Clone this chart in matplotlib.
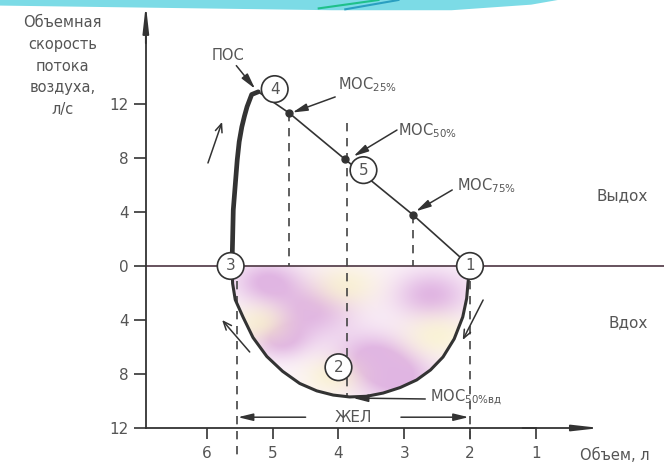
import numpy as np
import matplotlib.pyplot as plt
from matplotlib.patches import Polygon

plt.rcParams['font.family'] = ['DejaVu Sans']
TXT = '#555555'
INK = '#333333'

# expiratory limb: rise from point 3 to the peak (ПОС)
rise_v = [5.62, 5.61, 5.60, 5.57, 5.54, 5.51, 5.47, 5.43, 5.39, 5.32, 5.22]
rise_f = [0.0, 2.0, 4.15, 6.0, 7.85, 9.2, 10.3, 11.1, 11.8, 12.7, 12.9]

# expiratory limb: fall from the peak to point 1
fall_v = [5.22, 4.75, 3.90, 2.87, 2.0]
fall_f = [12.9, 11.33, 7.9, 3.8, 0.0]

# МОС25 / МОС50 / МОС75 points on the falling limb
mos_v = [4.75, 3.90, 2.87]
mos_f = [11.33, 7.9, 3.8]

# inspiratory limb, from point 3 round to point 1
insp_v = [5.62, 5.61, 5.57, 5.45, 5.30, 5.09, 4.85, 4.59, 4.33, 4.08, 3.83,
          3.57, 3.32, 3.06, 2.81, 2.60, 2.41, 2.24, 2.11, 2.05, 2.03, 2.0]
insp_f = [0.0, -1.3, -2.5, -3.8, -5.3, -6.7, -7.8, -8.7, -9.25, -9.56, -9.70,
          -9.65, -9.41, -9.0, -8.44, -7.7, -6.74, -5.4, -3.78, -2.4, -1.26, 0.0]

# vertical dashed guides: x, top, bottom
guide_v = [4.75, 3.87, 2.87, 5.55, 2.0]
guide_top = [11.33, 10.6, 3.8, 0.0, 0.0]
guide_bot = [0.0, -9.7, 0.0, -14.4, -13.2]

yticks = [12, 8, 4, 0, -4, -8, -12]
ytick_labels = ['12', '8', '4', '0', '4', '8', '12']
xticks = [6, 5, 4, 3, 2, 1]

circ_labels = ['1', '2', '3', '4', '5']
circ_v = [2.0, 4.0, 5.64, 4.97, 3.62]
circ_f = [0.0, -7.5, 0.0, 13.1, 7.1]

fig = plt.figure(figsize=(6.64, 4.65), dpi=100)
ax = fig.add_axes([0, 0, 1, 1])
ax.set_xlim(9.148, -0.951)
ax.set_ylim(-14.74, 19.70)

# decorative band along the top edge
band = Polygon([(0, 1), (0.84, 1), (0.80, 0.99), (0.68, 0.978), (0.50, 0.978),
                (0.0, 0.988)], closed=True, transform=fig.transFigure,
               facecolor='#7cdbe6', edgecolor='none', zorder=10)
fig.patches.append(band)
fig.add_artist(plt.Line2D([0.48, 0.57], [0.982, 1.0], color='#1fc08a', lw=1.5,
                          transform=fig.transFigure, zorder=11))
fig.add_artist(plt.Line2D([0.52, 0.60], [0.980, 1.0], color='#2a9fc0', lw=1.5,
                          transform=fig.transFigure, zorder=11))

# axes
for s in ['top', 'right']:
    ax.spines[s].set_visible(False)
ax.spines['left'].set_position(('data', 6.93))
ax.spines['left'].set_bounds(-12, 17.0)
ax.spines['bottom'].set_position(('data', -12))
ax.spines['bottom'].set_bounds(1.0, 6.93)
for s in ['left', 'bottom']:
    ax.spines[s].set_color(INK)
    ax.spines[s].set_linewidth(1.3)
ax.annotate('', xy=(6.93, 19.35), xytext=(6.93, 16.5),
            arrowprops=dict(arrowstyle='-|>,head_length=1.6,head_width=0.18',
                            color=INK, lw=1.3, shrinkA=0, shrinkB=0))
ax.annotate('', xy=(0.02, -12), xytext=(1.2, -12),
            arrowprops=dict(arrowstyle='-|>,head_length=1.6,head_width=0.18',
                            color=INK, lw=1.3, shrinkA=0, shrinkB=0))
ax.set_yticks(yticks)
ax.set_yticklabels(ytick_labels)
ax.set_xticks(xticks)
ax.tick_params(direction='out', length=9, width=1.2, color=INK,
               labelcolor=TXT, labelsize=11)
ax.tick_params(axis='x', length=8, pad=5)

ax.text(8.2, 14.8, 'Объемная\nскорость\nпотока\nвоздуха,\nл/с', ha='center',
        va='center', color=TXT, fontsize=10.5, linespacing=1.55)
ax.text(-0.2, -14.0, 'Объем, л', ha='center', va='center', color=TXT,
        fontsize=10.5)
ax.text(-0.31, 5.2, 'Выдох', ha='center', va='center', color=TXT, fontsize=11)
ax.text(-0.40, -4.2, 'Вдох', ha='center', va='center', color=TXT, fontsize=11)

# zero-flow line
ax.plot([6.93, -0.951], [0, 0], color='#5a4450', lw=1.3, zorder=2)

# mottled fill inside the inspiratory loop
gv, gf = np.meshgrid(np.linspace(2.0, 5.62, 200), np.linspace(-9.8, 0, 150))
purple = np.zeros_like(gv)
for cv, cf, s in [(5.1, -1.2, 0.35), (4.4, -3.3, 0.45), (2.6, -2.2, 0.4),
                  (3.5, -6.8, 0.4), (3.1, -8.4, 0.4), (4.9, -5.5, 0.3)]:
    purple += np.exp(-((gv - cv) ** 2 + ((gf - cf) / 3.2) ** 2) / (2 * s * s))
yellow = np.zeros_like(gv)
for cv, cf, s in [(3.9, -1.5, 0.35), (5.2, -4.3, 0.3), (2.5, -5.2, 0.35),
                  (4.1, -8.2, 0.3)]:
    yellow += np.exp(-((gv - cv) ** 2 + ((gf - cf) / 3.2) ** 2) / (2 * s * s))
purple = np.clip(purple, 0, 1)[..., None]
yellow = np.clip(yellow, 0, 1)[..., None]
base = np.array([0.99, 0.96, 0.98])
img = base * (1 - purple) + np.array([0.88, 0.71, 0.89]) * purple
img = img * (1 - 0.6 * yellow) + np.array([0.98, 0.96, 0.76]) * 0.6 * yellow
im = ax.imshow(img, extent=(2.0, 5.62, -9.8, 0), origin='lower',
               aspect='auto', zorder=1, interpolation='bilinear')
loop = Polygon(list(zip(insp_v, insp_f)), closed=True, transform=ax.transData)
im.set_clip_path(loop)

# dashed guides
for v, t, b in zip(guide_v, guide_top, guide_bot):
    ax.plot([v, v], [t, b], color='#444444', lw=1.2, ls=(0, (5, 4)), zorder=2)

# loop curves
ax.plot(rise_v, rise_f, color=INK, lw=3.4, solid_capstyle='round', zorder=4)
ax.plot(fall_v, fall_f, color=INK, lw=1.2, zorder=4)
ax.plot(insp_v, insp_f, color=INK, lw=2.2, zorder=4)
ax.plot(mos_v, mos_f, 'o', color=INK, ms=5, zorder=5)

# numbered points
for lab, v, f in zip(circ_labels, circ_v, circ_f):
    ax.text(v, f, lab, ha='center', va='center', color=TXT, fontsize=11,
            zorder=6, bbox=dict(boxstyle='circle,pad=0.38', fc='white',
                                ec=INK, lw=1.2))

# pointer labels
ptr = dict(arrowstyle='-|>,head_length=0.9,head_width=0.22', color=INK,
           lw=1.1, shrinkA=0, shrinkB=1)
ax.annotate('ПОС', xy=(5.255, 13.04), xytext=(5.68, 15.6), ha='center',
            va='center', color=TXT, fontsize=10.5, arrowprops=ptr)
ax.annotate('', xy=(4.72, 11.33), xytext=(4.05, 12.52), arrowprops=ptr)
ax.text(4.01, 13.4, 'МОС$_{25\\%}$', ha='left', va='center', color=TXT,
        fontsize=10.5)
ax.annotate('', xy=(3.79, 8.07), xytext=(3.11, 10.07), arrowprops=ptr)
ax.text(3.095, 10.0, 'МОС$_{50\\%}$', ha='left', va='center', color=TXT,
        fontsize=10.5)
ax.annotate('', xy=(2.84, 4.0), xytext=(2.27, 5.63), arrowprops=ptr)
ax.text(2.20, 5.93, 'МОС$_{75\\%}$', ha='left', va='center', color=TXT,
        fontsize=10.5)
ax.annotate('', xy=(3.80, -9.78), xytext=(2.68, -9.85), arrowprops=ptr)
ax.text(2.61, -9.7, 'МОС$_{\\mathrm{50\\%вд}}$', ha='left', va='center',
        color=TXT, fontsize=10.5)

# ЖЕЛ span
ax.text(3.77, -11.2, 'ЖЕЛ', ha='center', va='center', color=TXT, fontsize=11)
ax.annotate('', xy=(5.55, -11.2), xytext=(4.5, -11.2), arrowprops=ptr)
ax.annotate('', xy=(2.0, -11.2), xytext=(3.05, -11.2), arrowprops=ptr)

# direction arrows along the loop
flow = dict(arrowstyle='->,head_length=0.6,head_width=0.25', color=INK,
            lw=1.1, shrinkA=0, shrinkB=0)
ax.annotate('', xy=(5.77, 10.67), xytext=(5.985, 7.63), arrowprops=flow)
ax.annotate('', xy=(5.77, -4.0), xytext=(5.35, -6.37), arrowprops=flow)
ax.annotate('', xy=(2.11, -5.48), xytext=(1.80, -2.52), arrowprops=flow)

fig.savefig('out.png', dpi=100, facecolor='white')
